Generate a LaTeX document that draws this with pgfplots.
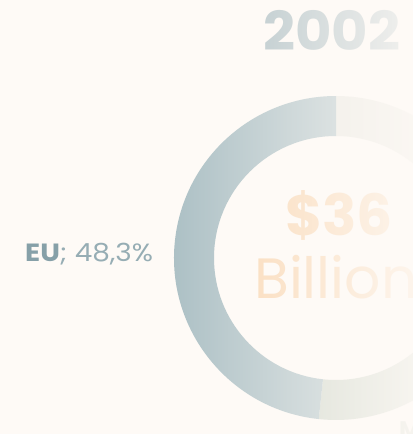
\documentclass[border=0pt]{standalone}
\usepackage{pgfplots}
\pgfplotsset{compat=1.18}
\usepackage{pgfplotstable}
\usepackage{fontspec}
\setmainfont{Poppins}
\usetikzlibrary{fadings}

\definecolor{bg}{RGB}{254,250,246}
\definecolor{eucol}{RGB}{172,192,197}
\definecolor{topcol}{RGB}{232,231,224}
\definecolor{mcol}{RGB}{205,213,200}
\definecolor{yearcol}{RGB}{172,190,195}
\definecolor{moneycol}{RGB}{250,214,176}
\definecolor{eulab}{RGB}{134,160,168}
\definecolor{eupct}{RGB}{150,173,180}

% overlay that washes the right part out
\tikzfading[name=washright, left color=transparent!100, right color=transparent!14]

% shares in percent, clockwise from 12 o'clock
\pgfplotstableread{
region share
Other  26.0
M      25.7
EU     48.3
}\shares

\begin{document}
\begin{tikzpicture}
\path[use as bounding box] (0,0) rectangle (413bp,434bp);
\clip (0,0) rectangle (413bp,434bp);
\begin{axis}[
    at={(0,0)}, anchor=south west,
    x=1bp, y=1bp, scale only axis,
    xmin=0, xmax=413, ymin=0, ymax=434,
    hide axis, clip=false,
]
\pgfplotstablegetelem{0}{share}\of\shares \let\sA\pgfplotsretval
\pgfplotstablegetelem{1}{share}\of\shares \let\sB\pgfplotsretval
\pgfplotstablegetelem{2}{share}\of\shares \let\sC\pgfplotsretval
\pgfmathsetmacro{\aA}{90-3.6*\sA}
\pgfmathsetmacro{\aB}{\aA-3.6*\sB}
\pgfmathsetmacro{\aC}{\aB-3.6*\sC}

\fill[bg] (axis cs:0,0) rectangle (axis cs:413,434);

% donut
\fill[topcol] ([shift={(axis cs:336,176)}]90:162bp) arc[start angle=90, end angle=\aA, radius=162bp]
  -- ([shift={(axis cs:336,176)}]\aA:122bp) arc[start angle=\aA, end angle=90, radius=122bp] -- cycle;
\fill[mcol] ([shift={(axis cs:336,176)}]\aA:162bp) arc[start angle=\aA, end angle=\aB, radius=162bp]
  -- ([shift={(axis cs:336,176)}]\aB:122bp) arc[start angle=\aB, end angle=\aA, radius=122bp] -- cycle;
\fill[eucol] ([shift={(axis cs:336,176)}]\aB:162bp) arc[start angle=\aB, end angle=\aC, radius=162bp]
  -- ([shift={(axis cs:336,176)}]\aC:122bp) arc[start angle=\aC, end angle=\aB, radius=122bp] -- cycle;

% texts that get washed out
\node[anchor=base west, inner sep=0, xscale=1.04, text=yearcol, font=\fontsize{54}{54}\selectfont\bfseries] at (axis cs:263,384) {2002};
\node[anchor=base, inner sep=0, text=moneycol, font=\fontsize{57}{57}\selectfont\bfseries] at (axis cs:339,199) {\$36};
\node[anchor=base west, inner sep=0, text=moneycol, font=\fontsize{57}{57}\selectfont] at (axis cs:254,136) {Billion};
\node[anchor=base west, inner sep=0, text=mcol, font=\fontsize{24}{24}\selectfont\bfseries] at (axis cs:399,-4) {M};

\fill[bg, path fading=washright] (axis cs:170,0) rectangle (axis cs:413,434);

\node[anchor=base west, inner sep=0, xscale=1.12, font=\fontsize{25}{25}\selectfont] at (axis cs:25,173)
  {\textcolor{eulab}{\bfseries EU}\textcolor{eupct}{; 48,3\%}};
\end{axis}
\end{tikzpicture}
\end{document}
